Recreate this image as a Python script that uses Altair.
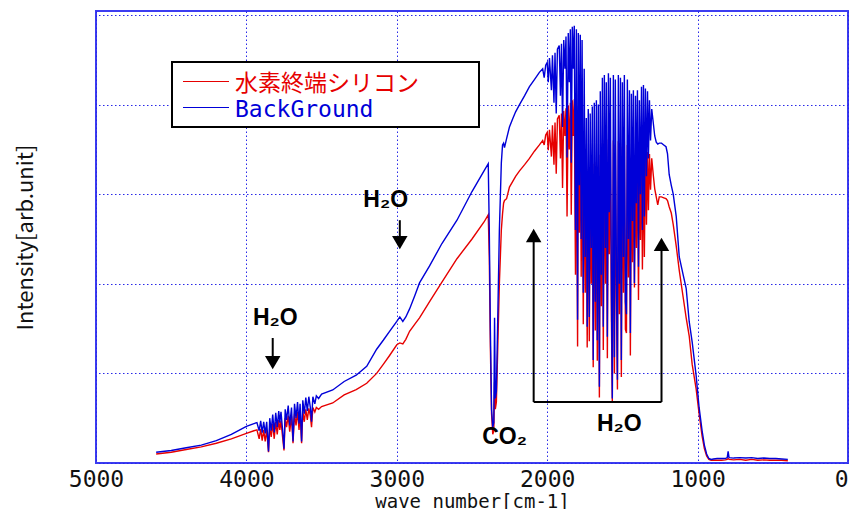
import altair as alt
import pandas as pd

# ---------------- spectrum data ----------------
# region A : smooth start
wn_a = [4600, 4500, 4400, 4300, 4200, 4100, 4000, 3950]
bg_a = [0.12, 0.14, 0.17, 0.20, 0.25, 0.32, 0.41, 0.44]
si_a = [0.10, 0.12, 0.15, 0.18, 0.22, 0.27, 0.33, 0.36]

# region B : H2O lines near 3800
wn_b = [3930, 3915, 3905, 3895, 3885, 3875, 3865, 3853, 3845, 3835, 3825, 3815, 3805, 3795, 3785,
        3778, 3770, 3760, 3750, 3742, 3733, 3722, 3712, 3700, 3690, 3680, 3670, 3660, 3650, 3643,
        3633, 3625, 3615, 3605, 3595, 3585, 3575, 3567, 3558, 3545, 3535, 3520, 3500]
bg_b = [0.45, 0.36, 0.47, 0.34, 0.46, 0.33, 0.46, 0.13, 0.50, 0.36, 0.54, 0.34, 0.56, 0.40, 0.58,
        0.45, 0.57, 0.38, 0.16, 0.60, 0.48, 0.64, 0.42, 0.62, 0.24, 0.66, 0.50, 0.68, 0.44, 0.66,
        0.24, 0.70, 0.55, 0.73, 0.58, 0.74, 0.62, 0.46, 0.74, 0.66, 0.75, 0.72, 0.77]
si_b = [0.37, 0.27, 0.38, 0.25, 0.37, 0.24, 0.37, 0.12, 0.40, 0.29, 0.44, 0.27, 0.46, 0.32, 0.48,
        0.37, 0.47, 0.30, 0.14, 0.50, 0.40, 0.53, 0.35, 0.52, 0.22, 0.55, 0.42, 0.57, 0.37, 0.56,
        0.22, 0.58, 0.46, 0.60, 0.48, 0.61, 0.53, 0.40, 0.62, 0.57, 0.62, 0.60, 0.63]

# region C : rise up to the CO2 band
wn_c = [3426, 3350, 3270, 3200, 3134, 3090, 3048, 3000, 2980, 2960, 2940, 2915, 2880, 2849, 2782,
        2700, 2600, 2500, 2420, 2392]
bg_c = [0.815, 0.91, 0.98, 1.08, 1.27, 1.37, 1.47, 1.58, 1.63, 1.58, 1.63, 1.72, 1.87, 2.01, 2.20,
        2.45, 2.71, 3.03, 3.26, 3.34]
si_c = [0.67, 0.76, 0.82, 0.89, 1.00, 1.10, 1.20, 1.32, 1.34, 1.33, 1.38, 1.47, 1.55, 1.62, 1.80,
        2.02, 2.28, 2.50, 2.69, 2.77]

# region D : CO2 band
wn_d = [2385, 2378, 2370, 2362, 2355, 2350, 2345, 2338, 2330, 2318, 2305, 2297, 2290, 2284]
bg_d = [2.60, 1.50, 0.60, 0.40, 0.45, 1.62, 0.72, 0.80, 1.50, 2.60, 3.35, 3.55, 3.57, 3.52]
si_d = [2.30, 1.30, 0.55, 0.32, 0.36, 0.90, 0.60, 0.68, 1.20, 2.00, 2.60, 2.78, 2.90, 2.93]

# region E : rise to the maximum
wn_e = [2270, 2251, 2230, 2210, 2184, 2150, 2118, 2085, 2052, 2030, 2020, 2010, 2000, 1993, 1985,
        1972, 1965, 1955, 1948, 1940, 1932, 1920, 1912, 1905, 1898, 1890, 1882, 1875, 1868, 1860,
        1853, 1846, 1840, 1833, 1826, 1820]
bg_e = [3.62, 3.75, 3.84, 3.92, 4.00, 4.10, 4.20, 4.28, 4.36, 4.40, 4.30, 4.44, 4.47, 4.25, 4.52,
        4.16, 4.55, 4.02, 4.58, 3.90, 4.62, 4.66, 4.10, 4.68, 3.75, 4.72, 4.40, 4.76, 3.41, 4.80,
        4.25, 4.84, 3.35, 4.87, 4.40, 4.88]
si_e = [2.95, 3.08, 3.14, 3.20, 3.26, 3.33, 3.40, 3.48, 3.55, 3.60, 3.55, 3.66, 3.69, 3.49, 3.72,
        3.42, 3.77, 3.33, 3.80, 3.23, 3.84, 3.88, 3.40, 3.90, 3.07, 3.93, 3.65, 3.96, 2.75, 3.99,
        3.50, 4.02, 2.77, 4.05, 3.65, 4.06]

# region F1 : dense H2O lines
wn_f1 = [1812, 1806, 1798, 1793, 1786, 1780, 1774, 1768, 1760, 1754, 1747, 1740, 1734, 1727, 1720,
         1714, 1707, 1700, 1694, 1687, 1680, 1673, 1667, 1660, 1653, 1647, 1640, 1633, 1627, 1620,
         1613, 1607, 1600, 1593, 1587, 1580, 1573, 1567, 1560, 1553, 1547, 1540, 1533, 1527, 1520,
         1513, 1507, 1500]
bg_f1 = [2.60, 4.84, 1.60, 4.80, 3.10, 4.78, 2.50, 4.72, 1.90, 4.40, 2.30, 3.85, 1.52, 3.95, 1.63,
         3.90, 2.40, 3.98, 1.15, 4.02, 1.80, 4.05, 1.37, 4.00, 0.85, 4.15, 2.10, 4.30, 1.52, 4.33,
         2.40, 4.25, 1.41, 4.35, 2.80, 4.30, 1.90, 0.72, 4.33, 1.18, 4.28, 2.20, 0.93, 4.33, 2.00,
         4.30, 1.15, 4.25]
si_f1 = [2.10, 4.02, 1.30, 3.98, 2.57, 3.96, 2.08, 3.92, 1.55, 3.66, 1.90, 3.20, 1.29, 3.28, 1.36,
         3.24, 2.00, 3.30, 1.07, 3.34, 1.48, 3.36, 1.14, 3.32, 0.73, 3.44, 1.75, 3.57, 1.26, 3.60,
         2.00, 3.53, 1.17, 3.61, 2.33, 3.57, 1.58, 0.68, 3.60, 1.00, 3.55, 1.83, 0.82, 3.59, 1.66,
         3.57, 0.96, 3.53]

# region F2 : dense H2O lines and shoulder
wn_f2 = [1493, 1487, 1480, 1473, 1467, 1460, 1453, 1447, 1440, 1433, 1427, 1420, 1413, 1407, 1400,
         1393, 1387, 1380, 1373, 1367, 1360, 1354, 1347, 1340, 1333, 1327, 1320, 1313, 1305, 1295,
         1285, 1275, 1265, 1255, 1240, 1225, 1210, 1200]
bg_f2 = [2.30, 4.33, 1.80, 1.66, 4.28, 2.50, 4.16, 1.45, 4.12, 2.70, 4.16, 2.01, 4.10, 2.90, 4.16,
         2.19, 4.05, 3.00, 4.20, 2.60, 4.22, 2.75, 4.18, 3.20, 4.15, 3.40, 4.05, 3.60, 3.95, 3.80,
         3.65, 3.58, 3.56, 3.57, 3.57, 3.55, 3.53, 3.45]
si_f2 = [1.90, 3.59, 1.49, 1.45, 3.55, 2.07, 3.45, 1.20, 3.42, 2.24, 3.46, 1.96, 3.40, 2.40, 3.45,
         1.82, 3.36, 2.49, 3.49, 2.16, 3.50, 2.30, 3.48, 2.66, 3.47, 2.82, 3.45, 3.05, 3.40, 3.22,
         3.06, 2.97, 2.88, 2.97, 2.97, 2.96, 2.95, 2.93]

# region G : cut-off
wn_g = [1189, 1175, 1162, 1142, 1122, 1096, 1076, 1056, 1036, 1010, 990, 970, 955, 940, 925, 910]
bg_g = [3.22, 3.10, 3.00, 2.75, 2.30, 2.10, 1.95, 1.58, 1.35, 0.98, 0.62, 0.36, 0.20, 0.10, 0.05, 0.04]
si_g = [2.86, 2.79, 2.66, 2.42, 2.15, 1.85, 1.62, 1.42, 1.10, 0.83, 0.55, 0.30, 0.16, 0.08, 0.04, 0.03]

# region H : flat tail
wn_h = [895, 870, 840, 815, 803, 797, 791, 760, 720, 680, 640, 600, 560, 520, 480, 440, 400]
bg_h = [0.045, 0.05, 0.05, 0.05, 0.06, 0.13, 0.06, 0.055, 0.06, 0.055, 0.06, 0.05, 0.055, 0.05,
        0.05, 0.045, 0.04]
si_h = [0.03, 0.03, 0.03, 0.035, 0.04, 0.05, 0.04, 0.035, 0.04, 0.03, 0.04, 0.03, 0.035, 0.03,
        0.03, 0.03, 0.025]

# axis ticks
x_ticks = [0, 1000, 2000, 3000, 4000, 5000]
y_grid = [0, 1, 2, 3, 4, 5]

# annotations (data coordinates)
shaft_wn = [2980, 3825, 2090, 1240]
shaft_top = [2.71, 1.395, 2.47, 2.37]
shaft_bottom = [2.45, 1.15, 0.681, 0.681]
head_wn = [2980, 3825, 2090, 1240]
head_v = [2.46, 1.12, 2.54, 2.44]
head_dir = ["down", "down", "up", "up"]
bracket_from = [2090]
bracket_to = [1240]
bracket_v = [0.681]
label_wn = [3074, 3808, 2284, 1521]
label_v = [2.94, 1.62, 0.29, 0.44]
label_txt = ["H₂O", "H₂O", "CO₂", "H₂O"]

series_names = ["水素終端シリコン", "BackGround"]

# ---------------- build ----------------
wavenumber = wn_a + wn_b + wn_c + wn_d + wn_e + wn_f1 + wn_f2 + wn_g + wn_h
background = bg_a + bg_b + bg_c + bg_d + bg_e + bg_f1 + bg_f2 + bg_g + bg_h
h_si = si_a + si_b + si_c + si_d + si_e + si_f1 + si_f2 + si_g + si_h

spec = pd.DataFrame({"wn": wavenumber, "bg": background, "si": h_si})
spec["idx"] = list(range(len(spec)))

RED = "#e60000"
BLUE = "#0000d8"
FRAME = "#3c3cf0"
GRID = "#2828e8"
YMAX = 5.045

x_scale = alt.Scale(domain=[0, 5000], reverse=True, nice=False, zero=False)
y_scale = alt.Scale(domain=[0, YMAX], nice=False, zero=False)

x_axis = alt.Axis(values=x_ticks, format="d", title="wave number[cm-1]",
                  labelFont="DejaVu Sans Mono", labelFontSize=23, labelColor="#111111",
                  labelPadding=5, labelFlush=False, labelOverlap=False,
                  labelAlign={"condition": {"test": "datum.value === 0", "value": "right"},
                              "value": "center"},
                  ticks=False, domain=False, grid=True,
                  titleFont="DejaVu Sans Mono", titleFontSize=19, titleFontWeight="normal",
                  titleColor="#111111", titleY=44, titleBaseline="alphabetic")
y_axis = alt.Axis(values=y_grid, labels=False, ticks=False, domain=False, grid=True,
                  title="Intensity[arb.unit]", titleFont="Noto Sans CJK JP", titleFontSize=22,
                  titleFontWeight="normal", titleColor="#111111", titleX=-64, titleY=226,
                  titleAngle=270, titleBaseline="alphabetic", titleAlign="center")

red_line = alt.Chart(spec).mark_line(color=RED, strokeWidth=1.4).encode(
    x=alt.X("wn:Q", scale=x_scale, axis=x_axis),
    y=alt.Y("si:Q", scale=y_scale, axis=y_axis),
    order=alt.Order("idx:Q"),
)
blue_line = alt.Chart(spec).mark_line(color=BLUE, strokeWidth=1.4).encode(
    x=alt.X("wn:Q", scale=x_scale, axis=x_axis),
    y=alt.Y("bg:Q", scale=y_scale, axis=y_axis),
    order=alt.Order("idx:Q"),
)

shafts = pd.DataFrame({"wn": shaft_wn, "top": shaft_top, "bottom": shaft_bottom})
shaft_layer = alt.Chart(shafts).mark_rule(color="black", strokeWidth=2).encode(
    x=alt.X("wn:Q", scale=x_scale, axis=x_axis),
    y=alt.Y("top:Q", scale=y_scale, axis=y_axis),
    y2="bottom:Q",
)
bracket = pd.DataFrame({"a": bracket_from, "b": bracket_to, "v": bracket_v})
bracket_layer = alt.Chart(bracket).mark_rule(color="black", strokeWidth=2).encode(
    x=alt.X("a:Q", scale=x_scale, axis=x_axis),
    x2="b:Q",
    y=alt.Y("v:Q", scale=y_scale, axis=y_axis),
)
heads = pd.DataFrame({"wn": head_wn, "v": head_v, "dir": head_dir})
head_layer = alt.Chart(heads).mark_point(filled=True, size=240, color="black", opacity=1).encode(
    x=alt.X("wn:Q", scale=x_scale, axis=x_axis),
    y=alt.Y("v:Q", scale=y_scale, axis=y_axis),
    shape=alt.Shape("dir:N", scale=alt.Scale(domain=["down", "up"],
                                             range=["triangle-down", "triangle-up"]), legend=None),
)
labels = pd.DataFrame({"wn": label_wn, "v": label_v, "t": label_txt})
label_layer = alt.Chart(labels).mark_text(font="Liberation Sans", fontWeight="bold", fontSize=23,
                                          color="black", align="center", baseline="middle").encode(
    x=alt.X("wn:Q", scale=x_scale, axis=x_axis),
    y=alt.Y("v:Q", scale=y_scale, axis=y_axis),
    text="t:N",
)

one = pd.DataFrame({"k": [0]})
box = alt.Chart(one).mark_rect(fill="white", stroke="black", strokeWidth=2).encode(
    x=alt.value(76), x2=alt.value(383), y=alt.value(51), y2=alt.value(116))
leg_red = alt.Chart(one).mark_rule(color=RED, strokeWidth=1.2).encode(
    x=alt.value(87), x2=alt.value(133), y=alt.value(70.5))
leg_blue = alt.Chart(one).mark_rule(color=BLUE, strokeWidth=1.2).encode(
    x=alt.value(87), x2=alt.value(133), y=alt.value(96.5))
leg_red_txt = alt.Chart(one).mark_text(text=series_names[0], font="Noto Sans CJK JP", fontSize=23,
                                       color=RED, align="left", baseline="alphabetic").encode(
    x=alt.value(139), y=alt.value(80))
leg_blue_txt = alt.Chart(one).mark_text(text=series_names[1], font="DejaVu Sans Mono", fontSize=23,
                                        color=BLUE, align="left", baseline="alphabetic").encode(
    x=alt.value(139), y=alt.value(106))

chart = alt.layer(
    red_line, blue_line, shaft_layer, bracket_layer, head_layer, label_layer,
    box, leg_red, leg_blue, leg_red_txt, leg_blue_txt,
).properties(
    width=752, height=452,
    autosize=alt.AutoSizeParams(type="none"),
    padding={"left": 88, "top": 3, "right": 1, "bottom": 46},
).configure_view(
    stroke=FRAME, strokeWidth=2,
).configure_axis(
    gridColor=GRID, gridDash=[1.5, 2.5], gridWidth=1, gridOpacity=1,
)

chart.save("out.html", embed_options={"renderer": "svg", "actions": False})
